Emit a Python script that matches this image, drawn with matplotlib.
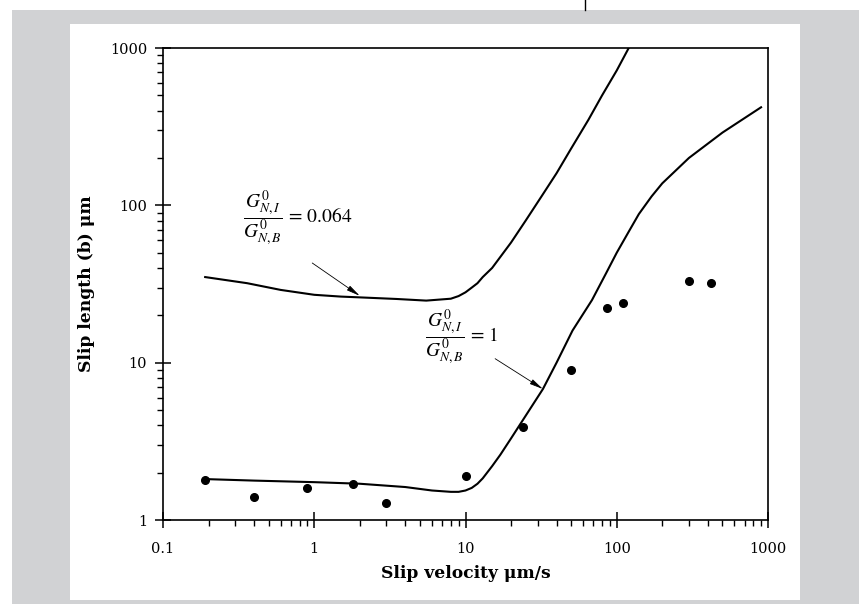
import matplotlib
matplotlib.use("Agg")
import matplotlib.pyplot as plt
from matplotlib.patches import Rectangle
from matplotlib.lines import Line2D

# ---- data ----
points_x = [0.19, 0.40, 0.90, 1.8, 3.0, 10, 24, 50, 86, 110, 300, 420]
points_y = [1.8, 1.40, 1.60, 1.69, 1.28, 1.9, 3.9, 9.0, 22.3, 24, 33, 32]

curve1_x = [0.19, 0.4, 1.0, 2.0, 4.0, 6.0, 8.0, 9.0, 10, 11, 12, 13, 15, 17, 20, 25, 32.5,
            40, 51, 68.6, 85, 100, 120, 140, 170, 200, 300, 500, 900]
curve1_y = [1.82, 1.78, 1.74, 1.70, 1.62, 1.54, 1.51, 1.51, 1.54, 1.60, 1.70, 1.84, 2.2,
            2.6, 3.3, 4.6, 6.8, 10, 16, 25, 37, 50, 68, 88, 114, 138, 200, 290, 420]

curve2_x = [0.19, 0.36, 0.6, 1.0, 1.5, 2.0, 3.5, 5.5, 8, 9, 10, 11, 12, 13, 15, 20, 25, 32,
            40, 50, 65, 80, 100, 120, 130]
curve2_y = [35, 32, 29, 27, 26.3, 26, 25.4, 24.8, 25.5, 26.5, 28, 30, 32, 35, 40, 58, 80,
            115, 160, 230, 350, 500, 720, 1000, 1150]

x_ticks = [0.1, 1, 10, 100, 1000]
x_ticklabels = ["0.1", "1", "10", "100", "1000"]
y_ticks = [1, 10, 100, 1000]
y_ticklabels = ["1", "10", "100", "1000"]

label1 = r"$\dfrac{G^0_{N,I}}{G^0_{N,B}}\,=\,0.064$"
label2 = r"$\dfrac{G^0_{N,I}}{G^0_{N,B}}\,=\,1$"

plt.rcParams["mathtext.fontset"] = "stix"
plt.rcParams["font.family"] = ["DejaVu Serif"]

W, H = 863, 604
fig = plt.figure(figsize=(W / 100, H / 100), dpi=100)
fig.patch.set_facecolor("white")

gray = "#d1d2d4"
fig.add_artist(Rectangle((12 / W, 0), (859 - 12) / W, 1 - 10 / H,
                         transform=fig.transFigure, facecolor=gray, edgecolor="none", zorder=0))
fig.add_artist(Rectangle((70 / W, 1 - 600 / H), (800 - 70) / W, (600 - 24) / H,
                         transform=fig.transFigure, facecolor="white", edgecolor="none", zorder=0))
fig.add_artist(Line2D([585 / W, 585 / W], [1, 1 - 10 / H], transform=fig.transFigure,
                      color="black", lw=1.0))

ax = fig.add_axes([163 / W, 1 - 520 / H, (768 - 163) / W, (520 - 48) / H])
ax.set_facecolor("white")
ax.set_xscale("log")
ax.set_yscale("log")
ax.set_xlim(0.1, 1000)
ax.set_ylim(1, 1000)

ax.plot(curve1_x, curve1_y, color="black", lw=1.5, zorder=3)
ax.plot(curve2_x, curve2_y, color="black", lw=1.5, zorder=3)
ax.plot(points_x, points_y, "o", color="black", markersize=5.5, zorder=4)

ax.set_xticks(x_ticks)
ax.set_xticklabels(x_ticklabels)
ax.set_yticks(y_ticks)
ax.set_yticklabels(y_ticklabels)
ax.tick_params(which="major", direction="inout", length=11, width=1.1, labelsize=10.5,
               pad=6, top=False, right=False)
ax.tick_params(which="minor", direction="out", length=4, width=1.0, top=False, right=False)
ax.tick_params(axis="x", which="major", pad=10)
for s in ax.spines.values():
    s.set_linewidth(1.2)

ax.set_xlabel("Slip velocity \u03bcm/s", fontsize=12.3, fontweight="bold", labelpad=7)
ax.set_ylabel("Slip length (b) \u03bcm", fontsize=12.3, fontweight="bold", labelpad=11)

arrow_style = dict(arrowstyle="-|>,head_length=0.9,head_width=0.18", color="black",
                   lw=0.6, mutation_scale=9, shrinkA=0, shrinkB=0)
ax.text(0.338, 83, label1, fontsize=14, ha="left", va="center")
ax.annotate("", xy=(2.0, 26.6), xytext=(0.97, 43), arrowprops=arrow_style)
ax.text(5.4, 14.6, label2, fontsize=14, ha="left", va="center")
ax.annotate("", xy=(32.5, 6.8), xytext=(15.7, 10.6), arrowprops=arrow_style)

fig.savefig("out.png", dpi=100)
